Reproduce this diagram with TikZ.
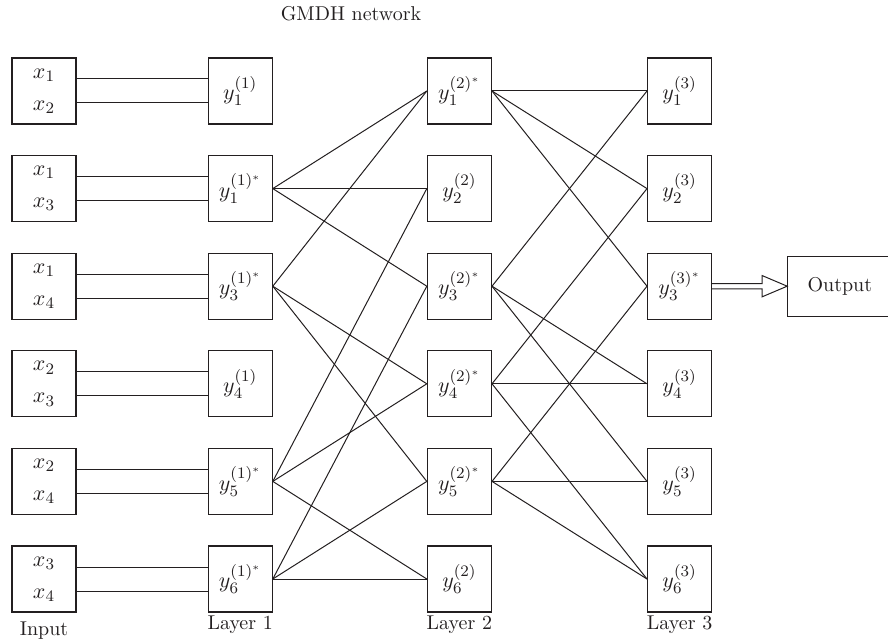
\documentclass[tikz,border=0pt]{standalone}
\usepackage{tikz}
\usetikzlibrary{positioning}
\definecolor{ink}{HTML}{231F20}
\tikzset{
  unitbox/.style={
    rectangle, draw=ink, line width=0.6pt, text=ink,
    minimum width=32pt, minimum height=33pt,
    inner sep=1pt, align=center, font=\fontsize{11}{13}\selectfont
  },
  outbox/.style={unitbox, minimum width=52pt, minimum height=30pt,
    font=\normalsize},
  link/.style={draw=ink, line width=0.5pt},
  layerlabel/.style={inner sep=0pt, text=ink},
}

\begin{document}
\begin{tikzpicture}[x=0.5pt, y=-0.5pt, node distance=15.2pt and 65.5pt]
  \useasboundingbox (0,0) rectangle (888,640);

  \node[layerlabel] (title) at (351,14) {GMDH network};

  % Input pairs
  \node[unitbox] (in1) at (44,91) {$x_1$\\[3pt]$x_2$};
  \node[unitbox, below=of in1] (in2) {$x_1$\\[3pt]$x_3$};
  \node[unitbox, below=of in2] (in3) {$x_1$\\[3pt]$x_4$};
  \node[unitbox, below=of in3] (in4) {$x_2$\\[3pt]$x_3$};
  \node[unitbox, below=of in4] (in5) {$x_2$\\[3pt]$x_4$};
  \node[unitbox, below=of in5] (in6) {$x_3$\\[3pt]$x_4$};

  % Layer 1
  \node[unitbox, right=of in1] (l1n1) {$y_1^{(1)}$};
  \node[unitbox, right=of in2] (l1n2) {$y_1^{(1)^{*}}$};
  \node[unitbox, right=of in3] (l1n3) {$y_3^{(1)^{*}}$};
  \node[unitbox, right=of in4] (l1n4) {$y_4^{(1)}$};
  \node[unitbox, right=of in5] (l1n5) {$y_5^{(1)^{*}}$};
  \node[unitbox, right=of in6] (l1n6) {$y_6^{(1)^{*}}$};

  % Layer 2
  \node[unitbox, right=77pt of l1n1] (l2n1) {$y_1^{(2)^{*}}$};
  \node[unitbox, right=77pt of l1n2] (l2n2) {$y_2^{(2)}$};
  \node[unitbox, right=77pt of l1n3] (l2n3) {$y_3^{(2)^{*}}$};
  \node[unitbox, right=77pt of l1n4] (l2n4) {$y_4^{(2)^{*}}$};
  \node[unitbox, right=77pt of l1n5] (l2n5) {$y_5^{(2)^{*}}$};
  \node[unitbox, right=77pt of l1n6] (l2n6) {$y_6^{(2)}$};

  % Layer 3
  \node[unitbox, right=77.5pt of l2n1] (l3n1) {$y_1^{(3)}$};
  \node[unitbox, right=77.5pt of l2n2] (l3n2) {$y_2^{(3)}$};
  \node[unitbox, right=77.5pt of l2n3] (l3n3) {$y_3^{(3)^{*}}$};
  \node[unitbox, right=77.5pt of l2n4] (l3n4) {$y_4^{(3)}$};
  \node[unitbox, right=77.5pt of l2n5] (l3n5) {$y_5^{(3)}$};
  \node[unitbox, right=77.5pt of l2n6] (l3n6) {$y_6^{(3)}$};

  \node[outbox, right=37.5pt of l3n3] (out) {Output};

  % Captions under the columns
  \node[layerlabel, below=4.5pt of in6] (inlabel) {Input};
  \node[layerlabel, below=1.5pt of l1n6] (lay1) {Layer 1};
  \node[layerlabel, below=1.5pt of l2n6] (lay2) {Layer 2};
  \node[layerlabel, below=1.5pt of l3n6] (lay3) {Layer 3};

  % Each input pair feeds its first-layer unit by two lines
  \draw[link] ([yshift=6pt]in1.east) -- ([yshift=6pt]l1n1.west);
  \draw[link] ([yshift=-6pt]in1.east) -- ([yshift=-6pt]l1n1.west);
  \draw[link] ([yshift=6pt]in2.east) -- ([yshift=6pt]l1n2.west);
  \draw[link] ([yshift=-6pt]in2.east) -- ([yshift=-6pt]l1n2.west);
  \draw[link] ([yshift=6pt]in3.east) -- ([yshift=6pt]l1n3.west);
  \draw[link] ([yshift=-6pt]in3.east) -- ([yshift=-6pt]l1n3.west);
  \draw[link] ([yshift=6pt]in4.east) -- ([yshift=6pt]l1n4.west);
  \draw[link] ([yshift=-6pt]in4.east) -- ([yshift=-6pt]l1n4.west);
  \draw[link] ([yshift=6pt]in5.east) -- ([yshift=6pt]l1n5.west);
  \draw[link] ([yshift=-6pt]in5.east) -- ([yshift=-6pt]l1n5.west);
  \draw[link] ([yshift=6pt]in6.east) -- ([yshift=6pt]l1n6.west);
  \draw[link] ([yshift=-6pt]in6.east) -- ([yshift=-6pt]l1n6.west);

  % Selected units of layer 1 -> layer 2
  \draw[link] (l1n2.east) -- (l2n1.west);
  \draw[link] (l1n2.east) -- (l2n2.west);
  \draw[link] (l1n2.east) -- (l2n3.west);
  \draw[link] (l1n3.east) -- (l2n1.west);
  \draw[link] (l1n3.east) -- (l2n4.west);
  \draw[link] (l1n3.east) -- (l2n5.west);
  \draw[link] (l1n5.east) -- (l2n2.west);
  \draw[link] (l1n5.east) -- (l2n4.west);
  \draw[link] (l1n5.east) -- (l2n6.west);
  \draw[link] (l1n6.east) -- (l2n3.west);
  \draw[link] (l1n6.east) -- (l2n5.west);
  \draw[link] (l1n6.east) -- (l2n6.west);

  % Selected units of layer 2 -> layer 3
  \draw[link] (l2n1.east) -- (l3n1.west);
  \draw[link] (l2n1.east) -- (l3n2.west);
  \draw[link] (l2n1.east) -- (l3n3.west);
  \draw[link] (l2n3.east) -- (l3n1.west);
  \draw[link] (l2n3.east) -- (l3n4.west);
  \draw[link] (l2n3.east) -- (l3n5.west);
  \draw[link] (l2n4.east) -- (l3n2.west);
  \draw[link] (l2n4.east) -- (l3n4.west);
  \draw[link] (l2n4.east) -- (l3n6.west);
  \draw[link] (l2n5.east) -- (l3n3.west);
  \draw[link] (l2n5.east) -- (l3n5.west);
  \draw[link] (l2n5.east) -- (l3n6.west);

  % Hollow double arrow to the output
  \draw[link, line join=miter]
    ([yshift=1.3pt]l3n3.east) -- ([xshift=-12.5pt, yshift=1.3pt]out.west)
    -- ([xshift=-12.5pt, yshift=5.3pt]out.west) -- (out.west)
    -- ([xshift=-12.5pt, yshift=-5.3pt]out.west)
    -- ([xshift=-12.5pt, yshift=-1.3pt]out.west) -- ([yshift=-1.3pt]l3n3.east);

\end{tikzpicture}
\end{document}
